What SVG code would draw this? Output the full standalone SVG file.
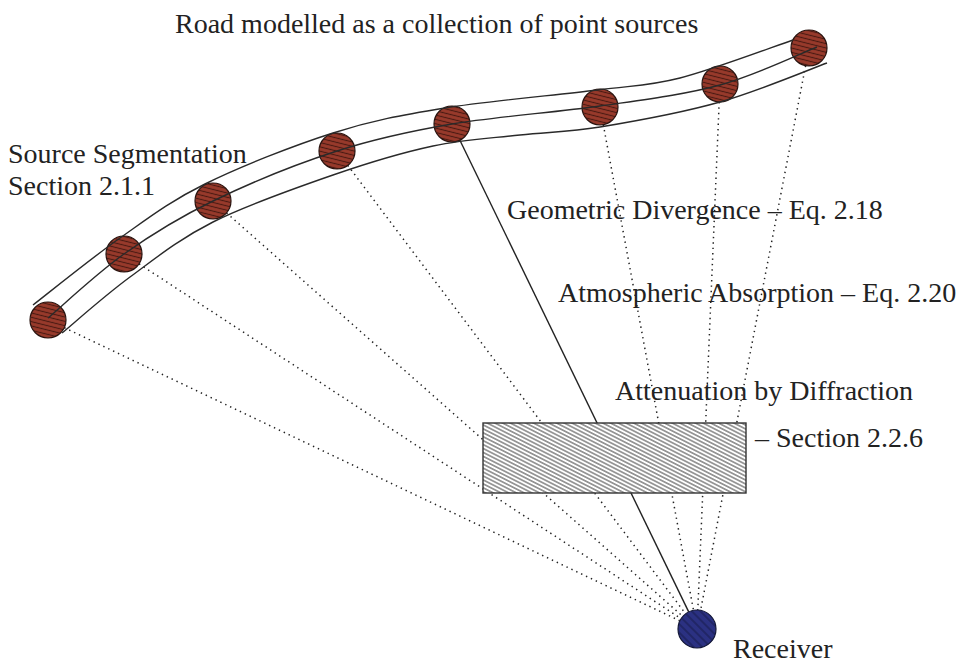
<svg xmlns="http://www.w3.org/2000/svg" width="964" height="666" viewBox="0 0 964 666">
  <style>
    .road { fill: none; stroke: #2a2a2a; stroke-width: 1.4; }
    .src { fill: url(#srcHatch); stroke: #2a1410; stroke-width: 1.2; }
    .dot { fill: none; stroke: #222; stroke-width: 1.5; stroke-dasharray: 1.4 4; }
    .solid { fill: none; stroke: #222; stroke-width: 1.4; }
    .lbl { font-family: "Liberation Serif", "Times New Roman", serif; font-size: 28px; fill: #222; }
  </style>
  <defs>
    <pattern id="srcHatch" patternUnits="userSpaceOnUse" width="4.2" height="4.2" patternTransform="rotate(14)">
      <rect width="4.2" height="4.2" fill="#983a2b"/>
      <line x1="0" y1="2.1" x2="4.2" y2="2.1" stroke="#4a1a12" stroke-width="1.1"/>
    </pattern>
    <pattern id="rcvHatch" patternUnits="userSpaceOnUse" width="6" height="6" patternTransform="rotate(45)">
      <rect width="6" height="6" fill="#2b3182"/>
      <line x1="0" y1="3" x2="6" y2="3" stroke="#161a4a" stroke-width="1"/>
    </pattern>
    <pattern id="barHatch" patternUnits="userSpaceOnUse" width="10" height="3.5" patternTransform="rotate(27)">
      <rect width="10" height="3.5" fill="#ffffff"/>
      <line x1="0" y1="1.75" x2="10" y2="1.75" stroke="#444" stroke-width="1"/>
    </pattern>
  </defs>

  <rect width="964" height="666" fill="#ffffff"/>

  <g id="connectors">
    <line class="dot" x1="64.3" y1="327.7" x2="679.8" y2="620.8"/>
    <line class="dot" x1="139.1" y1="263.9" x2="681.1" y2="618.6"/>
    <line class="dot" x1="226.5" y1="212.9" x2="682.8" y2="616.4"/>
    <line class="dot" x1="347.8" y1="165.4" x2="685.6" y2="613.8"/>
    <line class="solid" x1="459.9" y1="140.2" x2="688.7" y2="611.9"/>
    <line class="dot" x1="603.3" y1="124.7" x2="693.5" y2="610.3"/>
    <line class="dot" x1="719.2" y1="102" x2="697.8" y2="610"/>
    <line class="dot" x1="805.6" y1="65.7" x2="700.6" y2="610.3"/>
  </g>

  <g id="sources">
    <circle id="s1" class="src" cx="48" cy="320" r="18"/>
    <circle id="s2" class="src" cx="124" cy="254" r="18"/>
    <circle id="s3" class="src" cx="213" cy="201" r="18"/>
    <circle id="s4" class="src" cx="337" cy="151" r="18"/>
    <circle id="s5" class="src" cx="452" cy="124" r="18"/>
    <circle id="s6" class="src" cx="600" cy="107" r="18"/>
    <circle id="s7" class="src" cx="720" cy="84" r="18"/>
    <circle id="s8" class="src" cx="809" cy="48" r="18"/>
  </g>

  <g id="road">
    <path class="road" d="M33,305 C47.5,293.8 91.3,258.2 120,238 C148.7,217.8 169.5,201.5 205,184 C240.5,166.5 293,145.7 333,133 C373,120.3 401,115.2 445,108 C489,100.8 557.8,95 597,90 C636.2,85 647.3,86.3 680,78 C712.7,69.7 774.2,46.3 793,40"/>
    <path class="road" d="M48,318 C60.7,307.3 96.5,273.5 124,254 C151.5,234.5 177.5,218.2 213,201 C248.5,183.8 297.2,163.8 337,151 C376.8,138.2 408.2,131.5 452,124 C495.8,116.5 555.3,112.5 600,106 C644.7,99.5 683.8,94.8 720,85 C756.2,75.2 800.8,53.3 817,47"/>
    <path class="road" d="M62,333 C73.3,323.7 104.8,295.5 130,277 C155.2,258.5 179.2,239 213,222 C246.8,205 296.3,187.7 333,175 C369.7,162.3 401.8,152.7 433,146 C464.2,139.3 492.2,138.2 520,135 C547.8,131.8 566.7,132.5 600,127 C633.3,121.5 682.2,112.7 720,102 C757.8,91.3 809.2,69.5 827,63"/>
  </g>

  <g id="barrier">
    <rect x="483" y="423" width="263" height="70" fill="url(#barHatch)" stroke="#333" stroke-width="1.4"/>
  </g>

  <g id="receiver">
    <circle cx="697" cy="629" r="19" fill="url(#rcvHatch)" stroke="#141838" stroke-width="1.2"/>
  </g>

  <g id="labels">
    <text class="lbl" x="175" y="33">Road modelled as a collection of point sources</text>
    <text class="lbl" x="8" y="163">Source Segmentation</text>
    <text class="lbl" x="8" y="195">Section 2.1.1</text>
    <text class="lbl" x="507" y="219">Geometric Divergence – Eq. 2.18</text>
    <text class="lbl" x="558" y="302">Atmospheric Absorption – Eq. 2.20</text>
    <text class="lbl" x="615" y="400">Attenuation by Diffraction</text>
    <text class="lbl" x="755" y="447">– Section 2.2.6</text>
    <text class="lbl" x="733" y="658">Receiver</text>
  </g>
</svg>
